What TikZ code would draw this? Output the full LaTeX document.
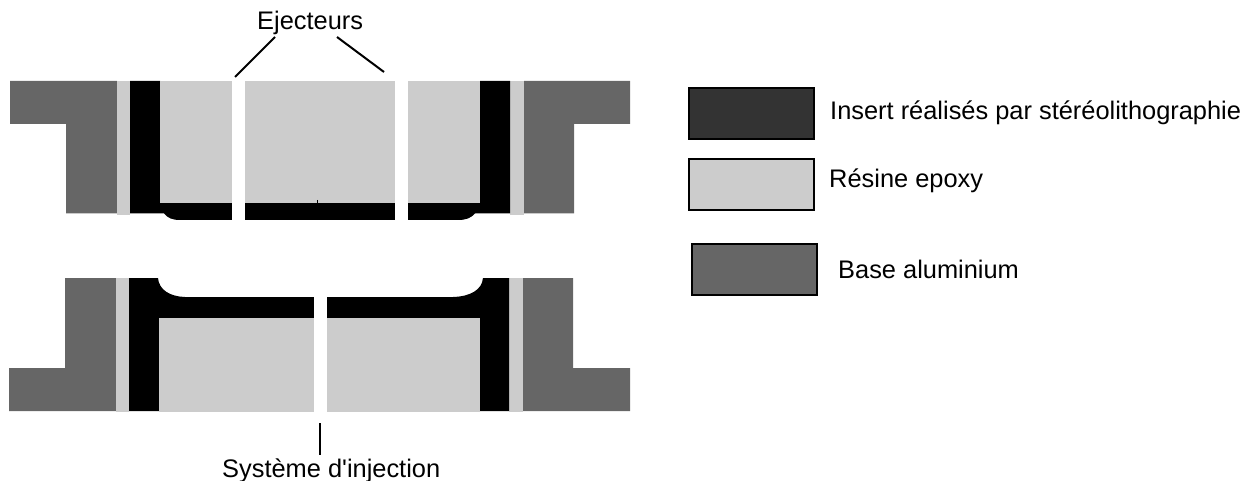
\documentclass[tikz,border=0pt]{standalone}
\usepackage{fontspec}
\newfontfamily\plainsans{Liberation Sans}
\definecolor{basegray}{HTML}{666666}
\definecolor{resingray}{HTML}{CCCCCC}
\definecolor{insertgray}{HTML}{333333}
\tikzset{
  basepart/.style={fill=basegray,draw=none},
  resinpart/.style={fill=resingray,draw=none},
  insertpart/.style={fill=black,draw=none},
  leader/.style={draw=black,line width=2pt},
  legendbox/.style={draw=black,line width=2pt,inner sep=0pt,minimum width=125pt,minimum height=51pt},
  lbl/.style={anchor=base west,inner sep=0pt,font=\plainsans\fontsize{25.4}{30}\selectfont}
}
\begin{document}
\begin{tikzpicture}[x=1pt,y=-1pt]
\useasboundingbox (0,0) rectangle (1245,481);
% top half
\fill[basepart] (10,81) -- (117,81) -- (117,213.5) -- (66,213.5) -- (66,124) -- (10,124) -- cycle;
\fill[basepart] (524,81) -- (630,81) -- (630,124) -- (574,124) -- (574,213.5) -- (524,213.5) -- cycle;
\fill[resinpart] (117,81) rectangle (130,215);
\fill[resinpart] (510,81) rectangle (524,215);
\fill[insertpart] (130,81) -- (160,81) -- (160,203) -- (480,203) -- (480,81) -- (510,81) -- (510,213.5) -- (475,213.5)
  .. controls (471,218) and (466,220) .. (458,220) -- (180,220) .. controls (172,220) and (168,218) .. (164,213.5) -- (130,213.5) -- cycle;
\fill[resinpart] (160,81) rectangle (232,203);
\fill[resinpart] (245,81) rectangle (395,203);
\fill[resinpart] (408,81) rectangle (480,203);
\fill[white] (232,81) rectangle (245,220.5);
\fill[white] (395,81) rectangle (408,220.5);
\draw[black,line width=.5pt] (317,200) -- (317,203);
% bottom half
\fill[basepart] (65,278) -- (116,278) -- (116,411) -- (9,411) -- (9,368) -- (65,368) -- cycle;
\fill[basepart] (523,278) -- (573,278) -- (573,368) -- (630,368) -- (630,411) -- (523,411) -- cycle;
\fill[resinpart] (116,278) rectangle (129,411.5);
\fill[resinpart] (509,278) rectangle (523,411.5);
\fill[insertpart] (129,278) -- (158,278) .. controls (159,290) and (170,296.5) .. (185,297) -- (453,297)
  .. controls (470,296.5) and (482,290) .. (483,278) -- (509,278) -- (509,411) -- (129,411) -- cycle;
\fill[resinpart] (159,318) rectangle (479.5,412);
\fill[white] (314,296) rectangle (327,413);
% labels
\node[lbl] (ej) at (257,30) {Ejecteurs};
\node[lbl] (sys) at (222,477) {Système d'injection};
\coordinate (ejA) at (275,37);
\coordinate (ejAend) at (235,77);
\coordinate (ejB) at (337,37);
\coordinate (ejBend) at (384,72);
\coordinate (sysA) at (320,423);
\coordinate (sysB) at (320,455);
\draw[leader] (ejA) -- (ejAend);
\draw[leader] (ejB) -- (ejBend);
\draw[leader] (sysA) -- (sysB);
% legend
\node[legendbox,fill=insertgray] (l1) at (751.5,113.5) {};
\node[legendbox,fill=resingray] (l2) at (751.5,184.5) {};
\node[legendbox,fill=basegray] (l3) at (754,269.5) {};
\node[lbl] (t1) at (830,120) {Insert réalisés par stéréolithographie};
\node[lbl] (t2) at (829,188) {Résine epoxy};
\node[lbl] (t3) at (838,278) {Base aluminium};
\end{tikzpicture}
\end{document}
